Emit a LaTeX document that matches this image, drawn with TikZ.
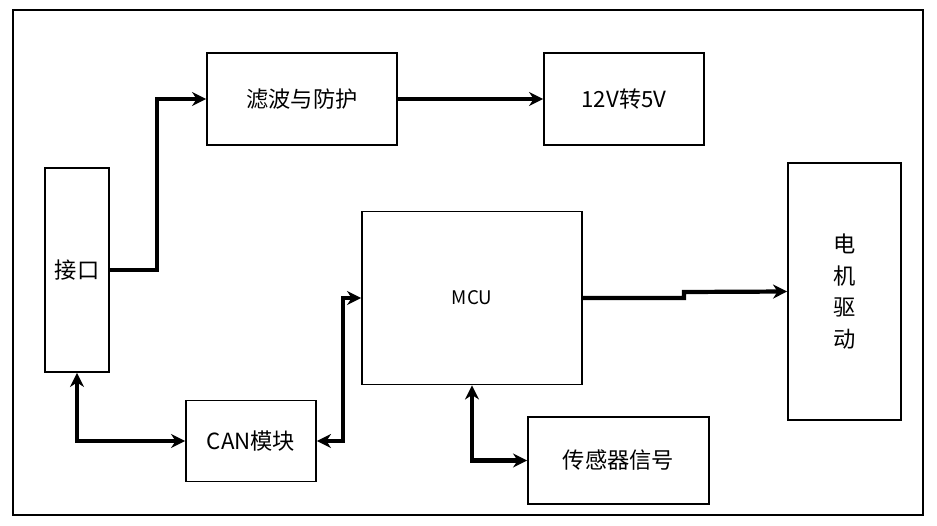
\documentclass[tikz,border=0pt]{standalone}
\usepackage{fontspec}
\setmainfont{Noto Sans CJK SC}
\usetikzlibrary{arrows.meta}
\begin{document}
\begin{tikzpicture}[x=0.03cm,y=-0.03cm]
    % Stili
    \tikzstyle{block}=[rectangle, draw, line width=1.6pt, inner sep=0pt, font=\fontsize{19}{22}\selectfont]
    \tikzstyle{link}=[line width=3.6pt, -{Stealth[length=12pt,width=12pt]}]
    \tikzstyle{both}=[line width=3.6pt, {Stealth[length=12pt,width=12pt]}-{Stealth[length=12pt,width=12pt]}]

    % Cornice
    \useasboundingbox (0,0) rectangle (937,525);
    \draw[line width=1.6pt] (13,10) rectangle (923,515);

    % Blocchi
    \node[block, minimum width=64*0.03cm, minimum height=204*0.03cm] (port) at (77,270) {接口};
    \node[block, minimum width=190*0.03cm, minimum height=92*0.03cm] (filter) at (302,99) {滤波与防护};
    \node[block, minimum width=160*0.03cm, minimum height=92*0.03cm] (conv) at (624,99) {12V转5V};
    \node[block, minimum width=220*0.03cm, minimum height=173*0.03cm, font=\fontsize{16}{19}\selectfont] (mcu) at (472,298) {MCU};
    \node[block, minimum width=113*0.03cm, minimum height=257*0.03cm, align=center, font=\fontsize{19}{27}\selectfont] (motor) at (844.5,291.5) {电\\机\\驱\\动};
    \node[block, minimum width=130*0.03cm, minimum height=81*0.03cm] (can) at (251,441) {CAN模块};
    \node[block, minimum width=181*0.03cm, minimum height=87*0.03cm] (sensor) at (618.5,460.5) {传感器信号};

    % Collegamenti
    \draw[link] (port.east) -- (157,270) |- (filter.west);
    \draw[link] (filter.east) -- (conv.west);
    \draw[link] (mcu.east) -- (684,298) -- (684,292) -- (motor.west);
    \draw[both] (port.south) |- (can.west);
    \draw[both] (can.east) -- (343,441) |- (mcu.west);
    \draw[both] (mcu.south) |- (sensor.west);
\end{tikzpicture}
\end{document}
